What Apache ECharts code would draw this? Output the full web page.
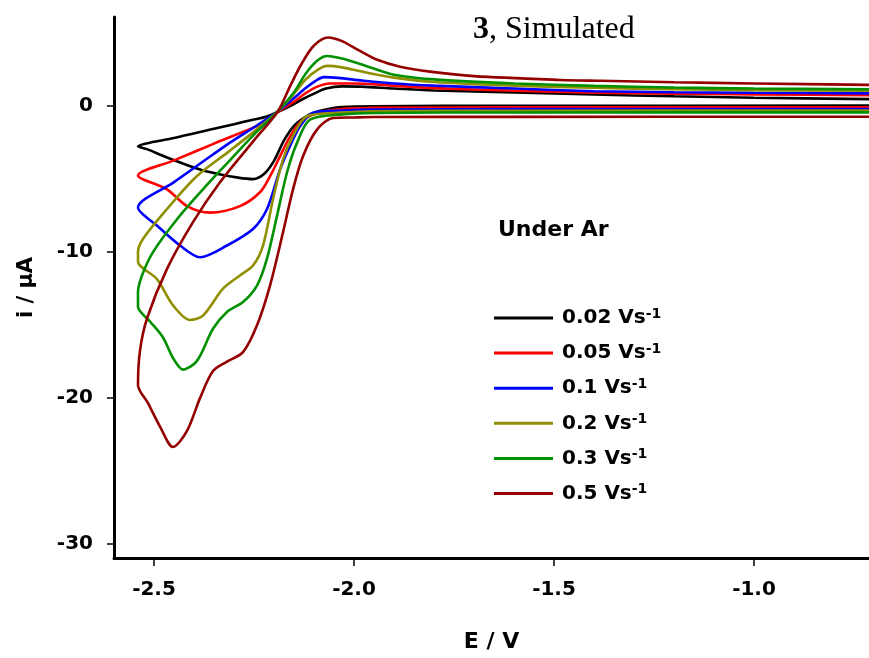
<!DOCTYPE html>
<html>
<head>
<meta charset="utf-8">
<script src="https://cdn.jsdelivr.net/npm/echarts@6/dist/echarts.min.js"></script>
<style>
  html, body { margin: 0; padding: 0; background: #fff; }
  #cv_chart { width: 869px; height: 658px; }
</style>
</head>
<body>
<div id="cv_chart"></div>
<script>
// scan rates (legend) and colours
const rateLabels = ["0.02", "0.05", "0.1", "0.2", "0.3", "0.5"];
const rateColors = ["#000000", "#ff0000", "#0000ff", "#8f8f00", "#009000", "#940000"];

// tick positions
const xTicks = [-2.5, -2.0, -1.5, -1.0];
const yTicks = [-30, -20, -10, 0];

// [E / V, i / uA], cathodic sweep first, then the return sweep
const cv002 = [
  [-0.7, -0.02], [-1.6, -0.03], [-1.95, -0.06], [-2.03, -0.12], [-2.07, -0.28], [-2.1, -0.5],
  [-2.125, -0.85], [-2.15, -1.4], [-2.175, -2.4], [-2.2, -3.8], [-2.225, -4.7], [-2.2525, -5.05],
  [-2.29, -4.95], [-2.34, -4.7], [-2.385, -4.4], [-2.4675, -3.57], [-2.5175, -3.0], [-2.54, -2.8],
  [-2.5, -2.5], [-2.45, -2.23], [-2.35, -1.6], [-2.3, -1.29], [-2.25, -0.97], [-2.22, -0.78],
  [-2.19, -0.45], [-2.16, -0.05], [-2.13, 0.4], [-2.1, 0.8], [-2.07, 1.15], [-2.03, 1.3],
  [-1.98, 1.28], [-1.9, 1.15], [-1.8, 1.02], [-1.6, 0.88], [-1.4, 0.74], [-1.2, 0.62],
  [-1.0, 0.52], [-0.7, 0.42]
];
const cv005 = [
  [-0.7, -0.13], [-1.6, -0.14], [-1.95, -0.17], [-2.03, -0.25], [-2.08, -0.45], [-2.1275, -0.98],
  [-2.16, -2.14], [-2.185, -3.5], [-2.21, -4.86], [-2.235, -5.95], [-2.285, -6.9], [-2.36, -7.35],
  [-2.4175, -6.9], [-2.4675, -5.75], [-2.54, -4.8],
  [-2.45, -3.77], [-2.35, -2.62], [-2.2175, -1.1], [-2.19, -0.45], [-2.15, 0.25], [-2.12, 0.85],
  [-2.09, 1.3], [-2.06, 1.5], [-2.0, 1.5], [-1.9, 1.35], [-1.8, 1.18], [-1.6, 1.0], [-1.4, 0.87],
  [-1.2, 0.8], [-1.0, 0.75], [-0.7, 0.7]
];
const cv01 = [
  [-0.7, -0.25], [-1.6, -0.26], [-1.95, -0.28], [-2.03, -0.35], [-2.1025, -0.5], [-2.135, -1.44],
  [-2.16, -2.8], [-2.185, -4.4], [-2.2175, -7.1], [-2.2525, -8.47], [-2.3175, -9.6], [-2.385, -10.4],
  [-2.435, -9.6], [-2.49, -8.3], [-2.54, -7.0],
  [-2.45, -5.26], [-2.38, -3.9], [-2.31, -2.55], [-2.25, -1.5], [-2.19, -0.4], [-2.15, 0.5],
  [-2.12, 1.2], [-2.095, 1.7], [-2.075, 1.93], [-2.04, 1.88], [-1.98, 1.7], [-1.9, 1.5],
  [-1.8, 1.35], [-1.6, 1.15], [-1.4, 0.97], [-1.2, 0.9], [-1.0, 0.86], [-0.7, 0.82]
];
const cv02 = [
  [-0.7, -0.36], [-1.6, -0.37], [-1.95, -0.4], [-2.03, -0.5], [-2.1175, -0.75], [-2.1525, -2.1],
  [-2.1775, -3.7], [-2.2025, -6.43], [-2.2275, -9.6], [-2.2525, -10.97], [-2.285, -11.65],
  [-2.3275, -12.56], [-2.3775, -14.4], [-2.41, -14.7], [-2.4525, -13.7], [-2.4925, -11.9], [-2.54, -10.7],
  [-2.54, -10.05], [-2.5275, -9.15], [-2.4675, -7.1], [-2.3925, -4.84], [-2.31, -3.1], [-2.25, -1.8],
  [-2.19, -0.4], [-2.15, 0.8], [-2.12, 1.8], [-2.09, 2.45], [-2.067, 2.7], [-2.03, 2.6],
  [-1.97, 2.25], [-1.9, 1.9], [-1.8, 1.6], [-1.6, 1.35], [-1.4, 1.2], [-1.2, 1.1], [-1.0, 1.04], [-0.7, 1.0]
];
const cv03 = [
  [-0.7, -0.48], [-1.6, -0.49], [-1.95, -0.52], [-2.03, -0.62], [-2.11, -0.98], [-2.1425, -2.57],
  [-2.1675, -4.6], [-2.1925, -7.57], [-2.2175, -10.5], [-2.2425, -12.34], [-2.2775, -13.47],
  [-2.3175, -14.15], [-2.3525, -15.3], [-2.3925, -17.5], [-2.4275, -18.1], [-2.4525, -17.3],
  [-2.4775, -15.9], [-2.51, -14.8], [-2.54, -13.8],
  [-2.54, -12.8], [-2.53, -11.65], [-2.5025, -10.05], [-2.4425, -7.8], [-2.3775, -5.75], [-2.315, -3.9],
  [-2.25, -2.0], [-2.19, -0.4], [-2.15, 0.9], [-2.12, 2.2], [-2.09, 3.1], [-2.067, 3.38], [-2.03, 3.2],
  [-1.97, 2.7], [-1.9, 2.1], [-1.8, 1.78], [-1.6, 1.5], [-1.4, 1.33], [-1.2, 1.22], [-1.0, 1.15], [-0.7, 1.1]
];
const cv05 = [
  [-0.7, -0.78], [-1.6, -0.79], [-1.95, -0.8], [-2.0, -0.83], [-2.0525, -0.87], [-2.0925, -1.66],
  [-2.1275, -3.48], [-2.1525, -5.75], [-2.1775, -8.7], [-2.21, -12.34], [-2.2425, -15.06],
  [-2.2775, -16.9], [-2.3175, -17.55], [-2.3525, -18.2], [-2.385, -20.05], [-2.4175, -22.3],
  [-2.4525, -23.4], [-2.485, -22.0], [-2.515, -20.4], [-2.54, -19.15],
  [-2.535, -16.8], [-2.5175, -14.6], [-2.4675, -11.2], [-2.4025, -8.0], [-2.335, -5.27], [-2.25, -2.4],
  [-2.19, -0.4], [-2.16, 1.3], [-2.13, 2.9], [-2.1, 4.1], [-2.065, 4.65], [-2.03, 4.4], [-1.99, 3.8],
  [-1.94, 3.1], [-1.885, 2.65], [-1.81, 2.31], [-1.7, 2.0], [-1.485, 1.74], [-1.385, 1.68],
  [-1.2, 1.58], [-1.0, 1.5], [-0.7, 1.4]
];
const scans = [cv002, cv005, cv01, cv02, cv03, cv05];

const sansFont = "DejaVu Sans";
const myChart = echarts.init(document.getElementById("cv_chart"));

const option = {
  animation: false,
  backgroundColor: "#ffffff",
  title: {
    left: 468,
    top: 9,
    text: "{b|3}{n|, Simulated}",
    textStyle: {
      rich: {
        b: { fontFamily: "Liberation Serif", fontSize: 32, fontWeight: "bold", color: "#000" },
        n: { fontFamily: "Liberation Serif", fontSize: 32, fontWeight: "normal", color: "#000" },
      },
    },
  },
  grid: { left: 114, right: 0, top: 17, bottom: 96, containLabel: false },
  legend: {
    orient: "vertical",
    left: 489,
    top: 302,
    icon: "rect",
    itemWidth: 59,
    itemHeight: 3,
    itemGap: 14.1,
    selectedMode: false,
    data: rateLabels.map((r) => r + " Vs"),
    formatter: (name) => "{a|" + name + "}{s|-1}",
    textStyle: {
      padding: [0, 0, 0, 4],
      rich: {
        a: { fontFamily: sansFont, fontSize: 20, fontWeight: "bold", color: "#000", lineHeight: 22 },
        s: { fontFamily: sansFont, fontSize: 14, fontWeight: "bold", color: "#000", lineHeight: 12, verticalAlign: "top" },
      },
    },
  },
  graphic: [
    {
      type: "text",
      left: 498,
      top: 219,
      style: { text: "Under Ar", font: "bold 22px 'DejaVu Sans'", fill: "#000" },
    },
  ],
  xAxis: {
    type: "value",
    min: -2.6,
    max: -0.7125,
    name: "E / V",
    nameLocation: "middle",
    nameGap: 73,
    nameTextStyle: { fontFamily: sansFont, fontSize: 22, fontWeight: "bold", color: "#000" },
    axisLine: { show: true, onZero: false, lineStyle: { color: "#000", width: 3 } },
    axisTick: { show: true, length: 8, customValues: xTicks, lineStyle: { color: "#000", width: 1.5 } },
    axisLabel: {
      customValues: xTicks,
      margin: 22,
      formatter: (v) => v.toFixed(1),
      fontFamily: sansFont,
      fontSize: 20,
      fontWeight: "bold",
      color: "#000",
    },
    splitLine: { show: false },
  },
  yAxis: {
    type: "value",
    min: -31,
    max: 6.05,
    name: "i / \u03bcA",
    nameLocation: "middle",
    nameGap: 77,
    nameTextStyle: { fontFamily: sansFont, fontSize: 21, fontWeight: "bold", color: "#000" },
    axisLine: { show: true, onZero: false, lineStyle: { color: "#000", width: 3 } },
    axisTick: { show: true, length: 7, customValues: yTicks, lineStyle: { color: "#000", width: 1.5 } },
    axisLabel: {
      customValues: yTicks,
      margin: 21,
      fontFamily: sansFont,
      fontSize: 20,
      fontWeight: "bold",
      color: "#000",
    },
    splitLine: { show: false },
  },
  series: scans.map((pts, i) => ({
    name: rateLabels[i] + " Vs",
    type: "line",
    data: pts,
    symbol: "none",
    smooth: 0.3,
    clip: true,
    color: rateColors[i],
    lineStyle: { color: rateColors[i], width: 2.6 },
  })),
};

myChart.setOption(option);
</script>
</body>
</html>
